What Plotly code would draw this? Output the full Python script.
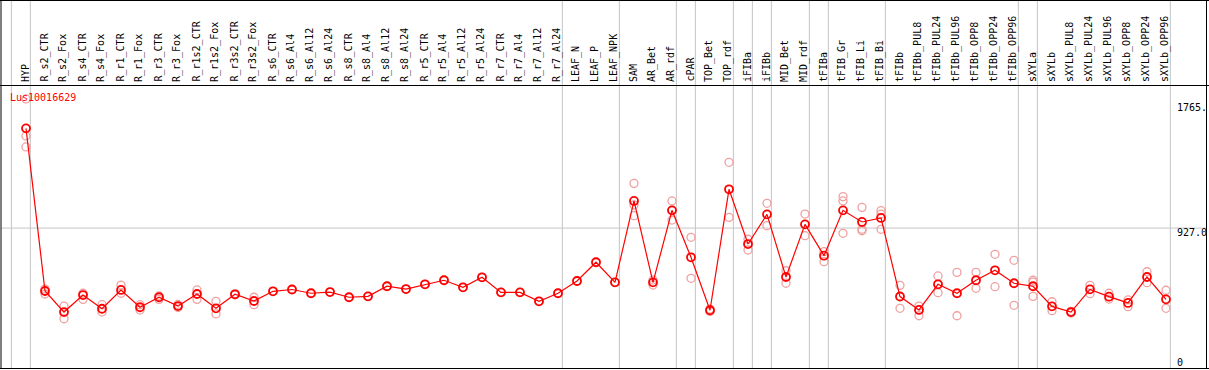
import plotly.graph_objects as go

categories = [
    "HYP", "R_s2_CTR", "R_s2_Fox", "R_s4_CTR", "R_s4_Fox", "R_r1_CTR", "R_r1_Fox",
    "R_r3_CTR", "R_r3_Fox", "R_r1s2_CTR", "R_r1s2_Fox", "R_r3s2_CTR", "R_r3s2_Fox",
    "R_s6_CTR", "R_s6_Al4", "R_s6_Al12", "R_s6_Al24", "R_s8_CTR", "R_s8_Al4",
    "R_s8_Al12", "R_s8_Al24", "R_r5_CTR", "R_r5_Al4", "R_r5_Al12", "R_r5_Al24",
    "R_r7_CTR", "R_r7_Al4", "R_r7_Al12", "R_r7_Al24", "LEAF_N", "LEAF_P", "LEAF_NPK",
    "SAM", "AR_Bet", "AR_rdf", "cPAR", "TOP_Bet", "TOP_rdf", "iFIBa", "iFIBb",
    "MID_Bet", "MID_rdf", "tFIBa", "tFIB_Gr", "tFIB_Li", "tFIB_Bi", "tFIBb",
    "tFIBb_PUL8", "tFIBb_PUL24", "tFIBb_PUL96", "tFIBb_OPP8", "tFIBb_OPP24",
    "tFIBb_OPP96", "sXYLa", "sXYLb", "sXYLb_PUL8", "sXYLb_PUL24", "sXYLb_PUL96",
    "sXYLb_OPP8", "sXYLb_OPP24", "sXYLb_OPP96",
]

main_values = [
    1596, 505, 364, 478, 386, 512, 396, 463, 404, 485, 389, 483, 438,
    503, 515, 490, 498, 463, 469, 537, 518, 550, 577, 530, 597,
    496, 496, 436, 490, 572, 698, 563,
    1109, 563, 1046, 731, 376, 1187, 820, 1019,
    599, 952, 742, 1046, 968, 995, 468,
    378, 550, 490, 577, 644, 557,
    537, 402, 364, 516, 467, 425, 599, 449,
]

replicates = [
    [1793, 1545, 1471], [518, 485], [404, 319], [490, 449], [413, 364],
    [545, 490], [413, 378], [472, 449], [415, 394], [512, 449], [436, 351],
    [486, 480], [463, 413],
    [503], [515], [490], [498], [463], [469], [537], [518], [550], [577],
    [530], [597], [496], [496], [436], [490], [572], [698], [563],
    [1227, 1082, 1010], [579, 545], [1109, 1046, 981], [865, 590], [384, 368],
    [1368, 999], [852, 780], [1093, 943], [641, 557], [1021, 876], [769, 702],
    [1138, 1109, 892], [1066, 919, 909], [1044, 1021, 919], [543, 389],
    [404, 339], [606, 494], [630, 339], [630, 523], [751, 534], [711, 409],
    [577, 565, 469], [433, 373], [369, 357], [543, 487], [490, 451],
    [445, 400], [634, 561], [510, 389],
]

# index (1-based) of the last category of each group; 0 = before the first
group_ends = [0, 1, 29, 32, 35, 36, 38, 39, 40, 42, 43, 46, 53, 54, 61]

y_ticks = [0, 927.0, 1765]
y_tick_labels = ["0", "927.0", "1765."]
gene_id = "Lus10016629"

W, H = 1209, 370
FONT = "DejaVu Sans Mono"
GRAY = "#c4c4c4"


def py(p):
    """pixel row -> paper y"""
    return 1 - p / H


x_idx = list(range(1, len(categories) + 1))

rep_x, rep_y = [], []
for i, reps in zip(x_idx, replicates):
    for r in reps:
        rep_x.append(i)
        rep_y.append(r)

fig = go.Figure()
fig.add_trace(go.Scatter(
    x=rep_x, y=rep_y, mode="markers",
    marker=dict(symbol="circle-open", size=8, color="#f0a0a0",
                line=dict(width=1.3, color="#f0a0a0")),
    hoverinfo="skip", showlegend=False,
))
fig.add_trace(go.Scatter(
    x=x_idx, y=main_values, mode="lines+markers",
    line=dict(color="#ff0000", width=1.2),
    marker=dict(symbol="circle-open", size=8, color="#ff0000",
                line=dict(width=1.8, color="#ff0000")),
    text=categories, showlegend=False,
))

shapes = []
# vertical group separators
for g in group_ends:
    shapes.append(dict(type="line", xref="x", yref="paper",
                       x0=g + 0.23, x1=g + 0.23, y0=py(368), y1=1,
                       line=dict(color=GRAY, width=1), layer="below"))
# horizontal gridline at middle tick
shapes.append(dict(type="line", xref="paper", yref="y",
                   x0=1 / W, x1=1206 / W, y0=y_ticks[1], y1=y_ticks[1],
                   line=dict(color=GRAY, width=1), layer="below"))
# black frame and header separator
black = dict(color="black", width=1)
shapes += [
    dict(type="line", xref="paper", yref="paper", x0=0, x1=1, y0=py(0.5), y1=py(0.5), line=black),
    dict(type="line", xref="paper", yref="paper", x0=0, x1=1, y0=py(85.5), y1=py(85.5), line=black),
    dict(type="line", xref="paper", yref="paper", x0=0, x1=1, y0=py(368.5), y1=py(368.5), line=black),
    dict(type="line", xref="paper", yref="paper", x0=1 / W, x1=1 / W, y0=py(368.5), y1=1, line=black),
    dict(type="line", xref="paper", yref="paper", x0=1206.5 / W, x1=1206.5 / W, y0=py(368.5), y1=1, line=black),
]

annotations = []
for i, name in zip(x_idx, categories):
    annotations.append(dict(
        x=i, xref="x", y=py(84), yref="paper", text=name, showarrow=False,
        textangle=-90, xanchor="center", yanchor="bottom", xshift=-1,
        font=dict(family=FONT, size=10, color="black"),
    ))
for k, (v, lab) in enumerate(zip(y_ticks, y_tick_labels)):
    annotations.append(dict(
        x=1175 / W, xref="paper", y=v, yref="y", text=lab, showarrow=False,
        xanchor="left", yanchor="middle", yshift=(4 if v == 0 else -4),
        font=dict(family=FONT, size=10, color="black"),
    ))
annotations.append(dict(
    x=8 / W, xref="paper", y=py(97), yref="paper", text=gene_id, showarrow=False,
    xanchor="left", yanchor="middle",
    font=dict(family=FONT, size=10, color="#ff0000"),
))

x0_px, step_px = 26, 19
x_lo = 1 - x0_px / step_px
x_hi = 1 + (W - x0_px) / step_px
zero_px, k_px = 366.3, 0.1491
y_lo = (zero_px - H) / k_px
y_hi = zero_px / k_px

fig.update_layout(
    width=W, height=H,
    margin=dict(l=0, r=0, t=0, b=0),
    paper_bgcolor="white", plot_bgcolor="white",
    xaxis=dict(range=[x_lo, x_hi], visible=False, domain=[0, 1], fixedrange=True),
    yaxis=dict(range=[y_lo, y_hi], visible=False, domain=[0, 1], fixedrange=True),
    shapes=shapes, annotations=annotations,
    showlegend=False,
)

fig.write_html(
    "out.html",
    config={"displayModeBar": False},
    post_script="document.body.style.margin='0';document.body.style.padding='0';"
                "document.body.style.overflow='hidden';",
)
